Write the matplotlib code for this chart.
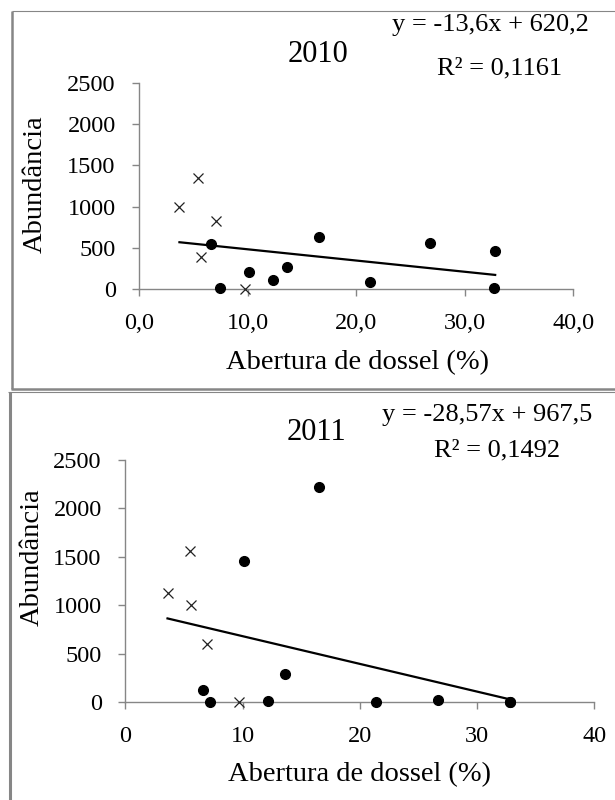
import numpy as np
import matplotlib
matplotlib.use('Agg')
import matplotlib.pyplot as plt
from matplotlib.lines import Line2D

# Values
cross_x_2010 = [3.7, 5.4, 5.7, 7.1, 9.7]
cross_y_2010 = [1000, 1350, 390, 830, 0]
dot_x_2010 = [6.6, 7.4, 10.1, 12.3, 13.6, 16.6, 21.3, 26.8, 32.8, 32.7]
dot_y_2010 = [550, 10, 210, 110, 270, 630, 90, 560, 460, 10]

cross_x_2011 = [3.6, 5.5, 5.6, 7.0, 9.7]
cross_y_2011 = [1130, 1560, 1000, 600, 5]
dot_x_2011 = [6.6, 7.2, 10.1, 12.2, 13.6, 16.5, 21.4, 26.7, 32.8, 32.8]
dot_y_2011 = [125, 0, 1455, 15, 290, 2220, 0, 25, 0, 0]

# trend line coefficients (slope, intercept) and R2 text
trend_2010 = (-13.6, 620.2)
trend_2011 = (-28.57, 967.5)
eq_2010 = 'y = -13,6x + 620,2'
r2_2010 = 'R² = 0,1161'
eq_2011 = 'y = -28,57x + 967,5'
r2_2011 = 'R² = 0,1492'

yticks = [0, 500, 1000, 1500, 2000, 2500]
xticks = [0, 10, 20, 30, 40]
xlabels_2010 = ['0,0', '10,0', '20,0', '30,0', '40,0']
xlabels_2011 = ['0', '10', '20', '30', '40']

plt.rcParams['font.family'] = ['Liberation Serif', 'DejaVu Serif']
GRAY = '#868686'
W, H = 615, 800

fig = plt.figure(figsize=(W / 100, H / 100), dpi=100)


def px(x, y):
    return x / W, 1 - y / H


def box(x0, y0, x1, y1):
    return [x0 / W, 1 - y1 / H, (x1 - x0) / W, (y1 - y0) / H]


def draw_panel(ax, cx, cy, dx, dy, trend, xlabels):
    allx = cx + dx
    xs = np.array([min(allx), max(allx)])
    ax.plot(xs, trend[0] * xs + trend[1], color='black', lw=1.6, zorder=2)
    ax.plot(cx, cy, 'x', color='#222222', ms=6.5, mew=0.9, clip_on=False, zorder=3)
    ax.plot(dx, dy, 'o', color='black', ms=7, clip_on=False, zorder=3)
    ax.set_xlim(0, 40)
    ax.set_ylim(0, 2500)
    ax.set_xticks(xticks)
    ax.set_xticklabels(xlabels)
    ax.set_yticks(yticks)
    for s in ['top', 'right']:
        ax.spines[s].set_visible(False)
    for s in ['left', 'bottom']:
        ax.spines[s].set_color(GRAY)
        ax.spines[s].set_linewidth(1.0)
    ax.tick_params(axis='both', direction='out', length=5, width=1.0,
                   color=GRAY, labelsize=17.5, pad=12)
    ax.patch.set_alpha(0)


# panel 2010
ax1 = fig.add_axes(box(139.3, 82.8, 573.3, 289.3))
draw_panel(ax1, cross_x_2010, cross_y_2010, dot_x_2010, dot_y_2010, trend_2010, xlabels_2010)

# panel 2011
ax2 = fig.add_axes(box(125.3, 459.8, 594.3, 702.3))
draw_panel(ax2, cross_x_2011, cross_y_2011, dot_x_2011, dot_y_2011, trend_2011, xlabels_2011)

# titles, equations and axis labels
fig.text(*px(318, 55), '2010', fontsize=22, ha='center', va='center')
fig.text(*px(392, 25), eq_2010, fontsize=19, ha='left', va='center')
fig.text(*px(500, 68), r2_2010, fontsize=19, ha='center', va='center')
fig.text(*px(357, 363), 'Abertura de dossel (%)', fontsize=20.5, ha='center', va='center')
fig.text(*px(35, 184), 'Abundância', fontsize=20.5, ha='center', va='center', rotation=90)

fig.text(*px(316, 432), '2011', fontsize=22, ha='center', va='center')
fig.text(*px(382, 415), eq_2011, fontsize=19, ha='left', va='center')
fig.text(*px(497, 450), r2_2011, fontsize=19, ha='center', va='center')
fig.text(*px(359, 775), 'Abertura de dossel (%)', fontsize=20.5, ha='center', va='center')
fig.text(*px(32, 557), 'Abundância', fontsize=20.5, ha='center', va='center', rotation=90)

# gray frames around the two charts
def frame_line(x, y, lw):
    fig.add_artist(Line2D([v / W for v in x], [1 - v / H for v in y],
                          color=GRAY, lw=lw, solid_capstyle='butt'))


frame_line([12.3, 615], [11, 11], 0.8)
frame_line([12.3, 12.3], [11, 389.2], 1.8)
frame_line([11, 615], [389.2, 389.2], 1.8)
frame_line([8, 615], [391.5, 391.5], 0.8)
frame_line([9.5, 9.5], [391.5, 800], 2.2)

fig.savefig('out.png', dpi=100)
